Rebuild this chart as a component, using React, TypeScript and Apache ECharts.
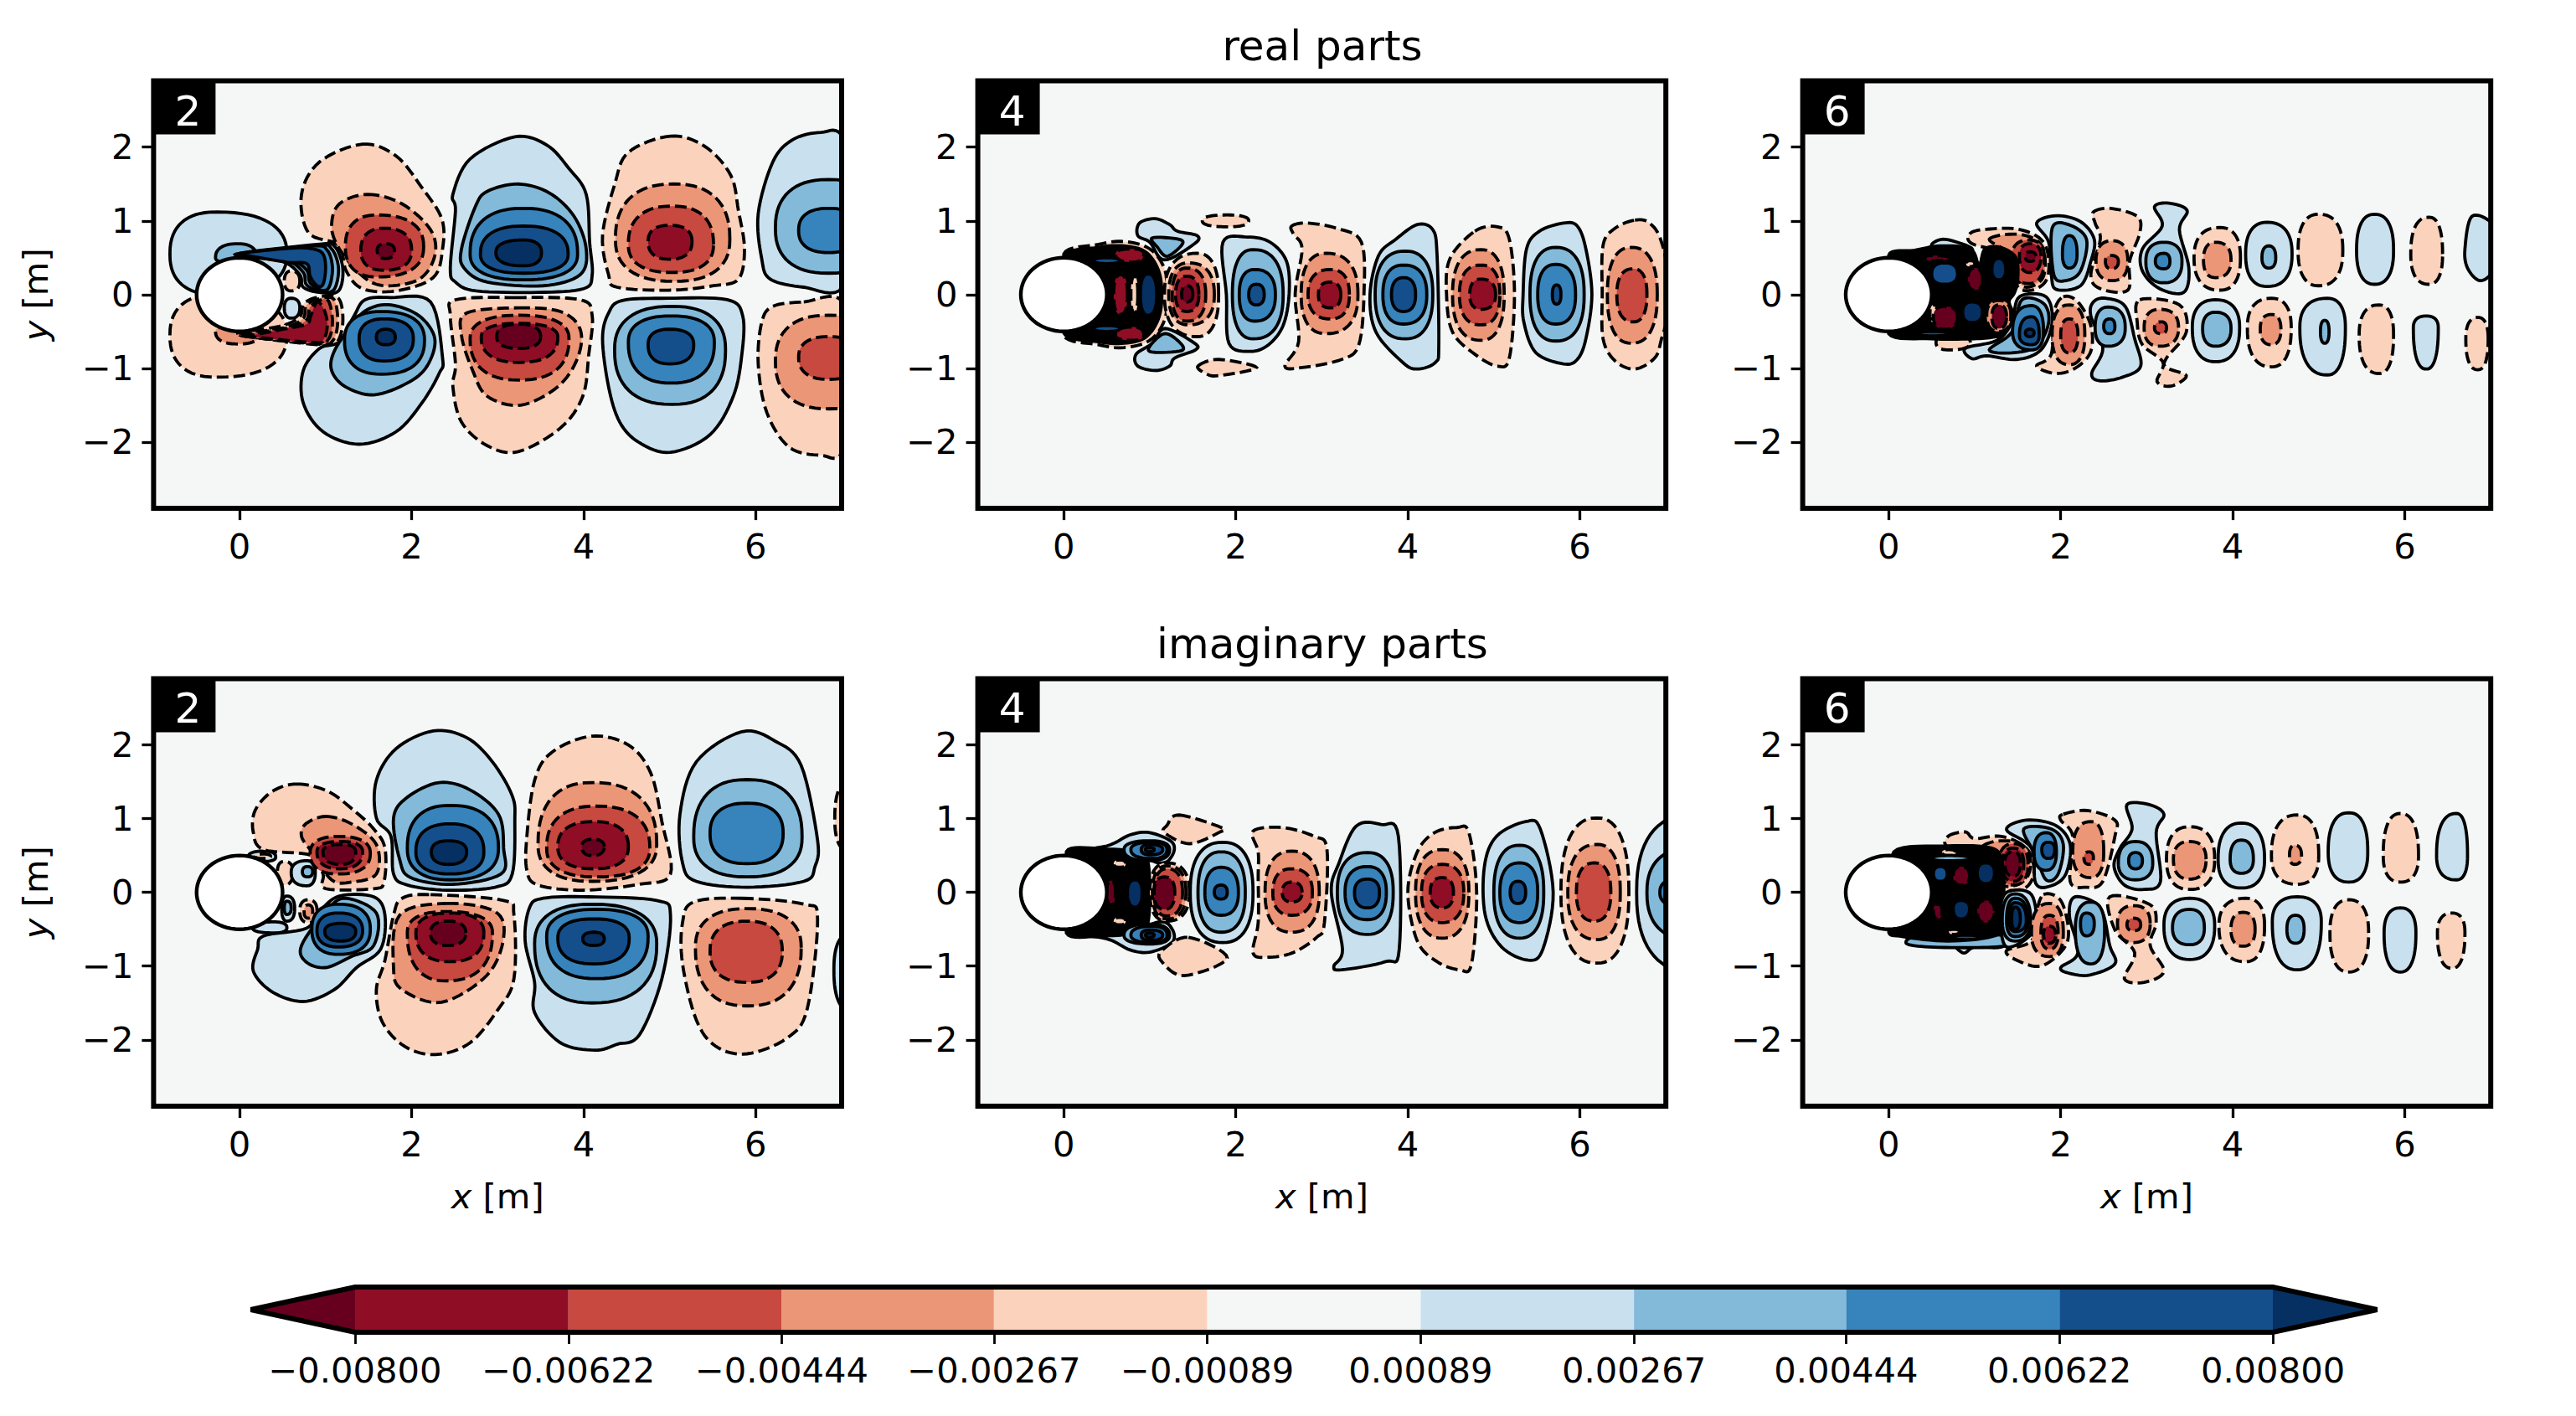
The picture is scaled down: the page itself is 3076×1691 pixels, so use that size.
import React, { useEffect, useRef } from "react";
import * as echarts from "echarts";

const FONT = "DejaVu Sans";
const panelTitles = ["real parts", "imaginary parts"];
const panelNumbers = ["2", "4", "6"];
const xTicks = [0, 2, 4, 6];
const yTicks = [-2, -1, 0, 1, 2];
const cbTicks = [-0.008, -0.00622, -0.00444, -0.00267, -0.00089, 0.00089, 0.00267, 0.00444, 0.00622, 0.008];
const cbColors = ["#8f0d25", "#c7493f", "#ec9678", "#fbd3bc", "#f5f7f6", "#c9e1ee", "#83bada", "#3783bb", "#144f8c"];
const cbTip = 0.00887;
const levelColors: Record<string, string> = {
  "-5": "#67001f", "-4": "#8f0d25", "-3": "#c7493f", "-2": "#ec9678", "-1": "#fbd3bc",
  "1": "#c9e1ee", "2": "#83bada", "3": "#3783bb", "4": "#144f8c", "5": "#053061",
  "9": "#000000", "10": "#ffffff",
};

// Contours. [level, xLeft, xRight, yBottom, yTop, xWidest, yWidest] or [level, outline]
const real2: any[] = [
  [1, -0.81, 0.55, 0, 1.12, -0.27, 0.55],
  [-1, -0.81, 0.55, -1.12, 0, -0.27, -0.55],
  [2, -0.28, 0.2, 0.42, 0.69, -0.02, 0.5],
  [-2, -0.28, 0.25, -0.67, -0.42, -0.02, -0.5],
  [-1, 0.52, 0.7, 0.05, 0.32, 0.6, 0.18],
  [1, 0.52, 0.7, -0.32, -0.05, 0.6, -0.18],
  [1, [[0, 0.56], [0.9, 0.68], [1.1, 0.66], [1.2, 0.36], [1.15, 0.05], [0.93, 0.03], [0.74, 0.1], [0.7, 0.27], [0.5, 0.45], [0.1, 0.51]]],
  [2, [[0.05, 0.56], [0.9, 0.67], [1.07, 0.62], [1.15, 0.36], [1.1, 0.07], [0.95, 0.04], [0.78, 0.13], [0.74, 0.3], [0.55, 0.46], [0.1, 0.52]]],
  [3, [[0.07, 0.56], [0.85, 0.66], [1.02, 0.6], [1.08, 0.36], [1.04, 0.1], [0.95, 0.06], [0.82, 0.16], [0.78, 0.33], [0.6, 0.46], [0.12, 0.53]]],
  [4, [[0.02, 0.56], [0.6, 0.63], [0.85, 0.62], [0.97, 0.55], [1.0, 0.36], [0.97, 0.14], [0.9, 0.12], [0.82, 0.25], [0.78, 0.42], [0.55, 0.44], [0.14, 0.52]]],
  [-1, [[0, -0.55], [0.9, -0.68], [1.12, -0.66], [1.2, -0.38], [1.15, -0.05], [0.93, -0.03], [0.75, -0.12], [0.7, -0.3], [0.5, -0.42], [0.1, -0.5]]],
  [-2, [[0.03, -0.56], [0.9, -0.67], [1.08, -0.63], [1.14, -0.38], [1.1, -0.07], [0.95, -0.05], [0.78, -0.14], [0.74, -0.32], [0.55, -0.44], [0.12, -0.52]]],
  [-3, [[0.05, -0.56], [0.88, -0.66], [1.03, -0.61], [1.08, -0.38], [1.04, -0.1], [0.95, -0.07], [0.82, -0.17], [0.78, -0.34], [0.6, -0.44], [0.13, -0.53]]],
  [-4, [[0.06, -0.56], [0.85, -0.65], [0.98, -0.6], [1.02, -0.4], [0.98, -0.2], [0.9, -0.1], [0.83, -0.28], [0.78, -0.4], [0.55, -0.46], [0.15, -0.55]]],
  [-1, [[1.43, 2.04], [1.82, 1.88], [2.12, 1.45], [2.35, 1.03], [2.36, 0.62], [2.25, 0.23], [1.82, 0.05], [1.43, 0.08], [1.24, 0.32], [1.15, 0.67], [0.8, 0.84], [0.72, 1.36], [0.93, 1.8]]],
  [-2, [[1.49, 1.36], [1.89, 1.23], [2.22, 0.88], [2.27, 0.53], [2.09, 0.21], [1.69, 0.12], [1.43, 0.25], [1.16, 0.62], [1.07, 0.93], [1.16, 1.23]]],
  [-3, 1.23, 2.14, 0.24, 1.08, 1.6, 0.65],
  [-4, 1.41, 2.0, 0.33, 0.9, 1.68, 0.6],
  [-5, 1.6, 1.8, 0.49, 0.69, 1.7, 0.6],
  [1, [[3.2, 2.14], [3.57, 2.03], [3.83, 1.71], [4.03, 1.36], [4.07, 0.71], [4.1, 0.27], [4.0, 0.08], [3.47, 0.03], [2.75, 0.05], [2.51, 0.17], [2.45, 0.36], [2.51, 1.14], [2.48, 1.36], [2.68, 1.84]]],
  [2, [[3.24, 1.5], [3.6, 1.38], [3.89, 1.06], [4.03, 0.62], [3.96, 0.27], [3.53, 0.12], [2.88, 0.17], [2.61, 0.36], [2.58, 0.62], [2.74, 1.19], [2.88, 1.4]]],
  [3, 2.68, 3.93, 0.2, 1.17, 3.3, 0.55],
  [4, 2.8, 3.82, 0.29, 0.93, 3.3, 0.55],
  [5, 2.98, 3.51, 0.39, 0.74, 3.3, 0.57],
  [-1, [[5.01, 2.15], [5.41, 2.01], [5.71, 1.62], [5.8, 1.14], [5.87, 0.62], [5.8, 0.21], [5.51, 0.12], [5.0, 0.06], [4.39, 0.1], [4.29, 0.27], [4.22, 0.8], [4.36, 1.49], [4.52, 1.93]]],
  [-2, 4.37, 5.7, 0.18, 1.5, 5.05, 0.75],
  [-3, 4.52, 5.51, 0.3, 1.2, 5.03, 0.68],
  [-4, 4.75, 5.26, 0.48, 0.94, 5.0, 0.72],
  [1, [[6.76, 2.2], [7.02, 2.12], [7.25, 1.1], [7.02, 0.1], [6.56, 0.1], [6.17, 0.21], [6.07, 0.49], [6.03, 1.1], [6.2, 1.8], [6.43, 2.1]]],
  [2, 6.23, 7.5, 0.29, 1.56, 6.85, 0.9],
  [3, 6.5, 7.2, 0.57, 1.17, 6.85, 0.87],
  [1, [[1.76, -0.04], [2.22, -0.1], [2.36, -0.86], [2.32, -1.07], [2.12, -1.47], [1.82, -1.86], [1.39, -2.03], [0.97, -1.86], [0.74, -1.47], [0.74, -1.03], [0.93, -0.73], [1.16, -0.64], [1.33, -0.29], [1.46, -0.07]]],
  [2, [[1.76, -0.14], [2.09, -0.29], [2.27, -0.6], [2.18, -0.97], [1.95, -1.2], [1.56, -1.36], [1.23, -1.25], [1.07, -1.03], [1.1, -0.77], [1.3, -0.42], [1.49, -0.2]]],
  [3, 1.22, 2.15, -1.08, -0.23, 1.65, -0.62],
  [4, 1.39, 2.02, -0.9, -0.33, 1.68, -0.6],
  [5, 1.59, 1.81, -0.68, -0.47, 1.7, -0.58],
  [-1, [[3.2, -0.04], [3.96, -0.07], [4.1, -0.29], [4.06, -0.81], [3.99, -1.38], [3.73, -1.81], [3.24, -2.13], [2.88, -2.05], [2.58, -1.73], [2.48, -1.25], [2.51, -0.94], [2.45, -0.29], [2.51, -0.07]]],
  [-2, [[3.24, -0.18], [3.73, -0.23], [3.96, -0.47], [3.93, -0.86], [3.7, -1.25], [3.27, -1.5], [2.88, -1.38], [2.71, -1.03], [2.58, -0.55], [2.64, -0.25]]],
  [-3, 2.68, 3.83, -1.16, -0.28, 3.25, -0.6],
  [-4, 2.81, 3.7, -0.92, -0.39, 3.25, -0.58],
  [-5, 2.99, 3.5, -0.73, -0.4, 3.25, -0.57],
  [1, [[4.98, -0.05], [5.67, -0.07], [5.85, -0.29], [5.84, -0.81], [5.74, -1.38], [5.47, -1.9], [5.01, -2.14], [4.65, -2.01], [4.42, -1.73], [4.29, -1.25], [4.22, -0.6], [4.29, -0.25], [4.45, -0.08]]],
  [2, 4.36, 5.65, -1.49, -0.16, 5.03, -0.75],
  [3, 4.52, 5.52, -1.2, -0.29, 5.02, -0.65],
  [4, 4.75, 5.28, -0.94, -0.47, 5.0, -0.68],
  [-1, [[6.56, -0.1], [7.02, -0.1], [7.25, -1.1], [7.02, -2.12], [6.76, -2.18], [6.39, -2.07], [6.13, -1.6], [6.03, -0.94], [6.07, -0.38], [6.2, -0.16]]],
  [-2, 6.23, 7.5, -1.55, -0.28, 6.85, -0.9],
  [-3, 6.5, 7.2, -1.15, -0.57, 6.85, -0.85],
];

const real4: any[] = [
  [-1, [[0, 0.55], [0.4, 0.68], [0.7, 0.72], [1.0, 0.62], [1.17, 0.35], [1.2, 0], [1.17, -0.35], [1.0, -0.62], [0.7, -0.72], [0.4, -0.68], [0, -0.55], [0.2, 0]]],
  [9, [[0, 0.52], [0.4, 0.64], [0.7, 0.66], [0.95, 0.58], [1.1, 0.33], [1.14, 0], [1.1, -0.33], [0.95, -0.58], [0.7, -0.66], [0.4, -0.64], [0, -0.52], [0.2, 0]]],
  [-4, 0.6, 0.93, 0.44, 0.62, 0.8, 0.55],
  [-4, 0.6, 0.93, -0.62, -0.44, 0.8, -0.55],
  [4, 0.35, 0.65, 0.42, 0.5, 0.5, 0.46],
  [4, 0.35, 0.65, -0.5, -0.42, 0.5, -0.46],
  [-4, 0.58, 0.74, -0.27, 0.27, 0.66, 0],
  [-1, 0.78, 0.86, -0.25, 0.25, 0.82, 0],
  [5, 0.89, 1.08, -0.28, 0.28, 0.98, 0],
  [-1, 1.17, 1.8, -0.57, 0.56, 1.55, 0],
  [-2, 1.22, 1.75, -0.41, 0.43, 1.45, 0],
  [-3, 1.26, 1.65, -0.36, 0.36, 1.43, 0],
  [-4, 1.3, 1.57, -0.23, 0.25, 1.43, 0],
  [-5, 1.37, 1.5, -0.1, 0.12, 1.43, 0],
  [1, [[1.06, 1.03], [1.23, 0.95], [1.32, 0.86], [1.55, 0.8], [1.52, 0.69], [1.17, 0.47], [1.0, 0.71], [0.86, 0.8], [0.88, 0.97]]],
  [2, [[1.03, 0.77], [1.34, 0.75], [1.37, 0.67], [1.2, 0.52], [1.09, 0.64]]],
  [1, [[1.07, -1.03], [0.86, -0.97], [0.84, -0.81], [1.03, -0.66], [1.18, -0.46], [1.52, -0.66], [1.53, -0.75], [1.29, -0.86], [1.23, -0.97]]],
  [2, [[1.0, -0.7], [1.17, -0.53], [1.34, -0.64], [1.37, -0.76], [1.03, -0.78]]],
  [-1, 1.61, 2.15, 0.92, 1.08, 1.9, 1.0],
  [-1, [[1.56, -0.97], [1.8, -0.88], [2.24, -0.99], [1.8, -1.1], [1.65, -1.07]]],
  [1, [[1.85, 0.71], [2.14, 0.78], [2.4, 0.71], [2.59, 0.45], [2.62, 0.01], [2.55, -0.42], [2.38, -0.68], [2.17, -0.77], [1.92, -0.66], [1.89, 0]]],
  [2, 1.96, 2.55, -0.6, 0.61, 2.2, 0],
  [3, 2.04, 2.46, -0.36, 0.34, 2.22, 0],
  [4, 2.15, 2.33, -0.14, 0.14, 2.24, 0],
  [-1, [[2.65, 0.93], [2.83, 0.97], [3.17, 0.9], [3.46, 0.71], [3.49, 0.01], [3.43, -0.68], [3.23, -0.88], [2.77, -0.99], [2.57, -0.97], [2.73, -0.64], [2.69, 0.01], [2.77, 0.62], [2.67, 0.82]]],
  [-2, 2.76, 3.42, -0.53, 0.56, 3.05, 0],
  [-3, 2.84, 3.32, -0.33, 0.34, 3.1, 0],
  [-4, 2.96, 3.22, -0.18, 0.17, 3.1, 0],
  [1, [[4.11, 0.95], [4.29, 0.88], [4.34, 0.53], [4.36, -0.68], [4.32, -0.92], [4.11, -1.01], [3.94, -0.92], [3.63, -0.51], [3.56, 0], [3.66, 0.53], [3.86, 0.75]]],
  [2, 3.62, 4.29, -0.6, 0.59, 3.97, 0],
  [3, 3.71, 4.22, -0.4, 0.4, 3.95, 0],
  [4, 3.81, 4.09, -0.23, 0.23, 3.95, 0],
  [-1, [[4.78, 0.86], [5.04, 0.92], [5.18, 0.75], [5.24, 0], [5.18, -0.86], [5.04, -0.97], [4.78, -0.81], [4.52, -0.51], [4.45, 0], [4.49, 0.49]]],
  [-2, 4.52, 5.12, -0.62, 0.61, 4.85, 0],
  [-3, 4.6, 5.07, -0.41, 0.4, 4.85, 0],
  [-4, 4.72, 5.02, -0.2, 0.21, 4.85, 0],
  [1, [[5.81, 0.97], [5.97, 0.93], [6.07, 0.62], [6.14, 0], [6.07, -0.6], [5.97, -0.88], [5.81, -0.94], [5.49, -0.79], [5.35, -0.38], [5.34, 0], [5.38, 0.62], [5.53, 0.86]]],
  [2, 5.42, 6.05, -0.63, 0.64, 5.72, 0],
  [3, 5.51, 5.95, -0.4, 0.41, 5.72, 0],
  [4, 5.68, 5.78, -0.13, 0.13, 5.73, 0],
  [-1, [[6.64, 1.01], [6.81, 0.97], [6.95, 0.71], [7.07, 0], [6.95, -0.6], [6.87, -0.86], [6.64, -1.01], [6.41, -0.9], [6.27, -0.6], [6.26, 0], [6.27, 0.67], [6.41, 0.9]]],
  [-2, 6.32, 6.9, -0.66, 0.64, 6.6, 0],
  [-3, 6.43, 6.78, -0.37, 0.35, 6.62, 0],
];

const real6: any[] = [
  [1, [[0.5, 0.68], [0.66, 0.75], [0.97, 0.62], [0.6, 0.6]]],
  [-1, 0.55, 0.95, -0.75, -0.55, 0.7, -0.65],
  [-1, [[0.94, 0.82], [1.09, 0.88], [1.49, 0.89], [1.77, 0.75], [1.86, 0.49], [1.83, 0.19], [1.66, 0.06], [1.49, 0.12], [1.37, 0.53], [0.97, 0.69]]],
  [-2, [[1.17, 0.75], [1.49, 0.82], [1.75, 0.71], [1.82, 0.45], [1.77, 0.19], [1.55, 0.12], [1.43, 0.53]]],
  [-3, 1.43, 1.81, 0.15, 0.74, 1.63, 0.5],
  [-4, 1.52, 1.77, 0.3, 0.69, 1.64, 0.52],
  [-5, 1.59, 1.71, 0.45, 0.58, 1.64, 0.52],
  [9, [[0, 0.53], [0.3, 0.6], [0.6, 0.66], [0.95, 0.62], [1.05, 0.4], [1.12, 0.62], [1.3, 0.64], [1.48, 0.5], [1.5, 0.2], [1.46, 0.02], [1.4, -0.1], [1.46, -0.3], [1.42, -0.52], [1.2, -0.58], [0.95, -0.6], [0.5, -0.6], [0, -0.53], [0.2, 0]]],
  [-5, 0.42, 0.7, 0.46, 0.53, 0.5, 0.5],
  [4, 0.5, 0.8, 0.14, 0.43, 0.65, 0.28],
  [-5, 0.92, 1.09, 0.06, 0.36, 1, 0.2],
  [5, 1.2, 1.36, 0.2, 0.49, 1.28, 0.34],
  [-1, 0.9, 1.0, 0.38, 0.46, 0.95, 0.42],
  [-1, 0.48, 0.58, -0.38, -0.14, 0.52, -0.25],
  [5, 0.86, 1.09, -0.38, -0.1, 0.97, -0.24],
  [-2, 1.14, 1.42, -0.5, -0.08, 1.28, -0.28],
  [-5, 1.2, 1.37, -0.46, -0.14, 1.28, -0.3],
  [-5, 0.52, 0.8, -0.47, -0.16, 0.65, -0.3],
  [4, 0.35, 0.7, -0.56, -0.5, 0.5, -0.53],
  [1, [[1.72, 0.97], [1.95, 1.07], [2.23, 0.99], [2.39, 0.75], [2.35, 0.45], [2.23, 0.12], [1.95, 0.07], [1.89, 0.27], [1.86, 0.71]]],
  [2, [[1.9, 0.9], [2.09, 0.95], [2.3, 0.75], [2.23, 0.32], [2.06, 0.19], [1.92, 0.27]]],
  [3, 2.02, 2.19, 0.36, 0.8, 2.1, 0.55],
  [-1, [[2.38, 1.12], [2.58, 1.17], [2.89, 1.06], [2.92, 0.84], [2.8, 0.45], [2.78, 0.06], [2.46, 0.08], [2.35, 0.27], [2.46, 0.75], [2.4, 0.97]]],
  [-2, 2.41, 2.78, 0.19, 0.73, 2.6, 0.45],
  [-3, 2.52, 2.67, 0.35, 0.53, 2.59, 0.45],
  [1, [[3.09, 1.19], [3.26, 1.24], [3.47, 1.14], [3.38, 0.88], [3.49, 0.36], [3.43, 0.03], [3.15, 0.08], [2.95, 0.32], [2.95, 0.62], [3.18, 0.93]]],
  [2, 2.99, 3.41, 0.16, 0.71, 3.2, 0.45],
  [3, 3.1, 3.27, 0.35, 0.56, 3.2, 0.45],
  [-1, 3.55, 4.09, 0.06, 0.91, 3.85, 0.5],
  [-2, 3.66, 3.98, 0.23, 0.71, 3.8, 0.47],
  [1, 4.15, 4.69, 0.11, 0.98, 4.4, 0.55],
  [2, 4.34, 4.5, 0.36, 0.66, 4.42, 0.5],
  [-1, 4.76, 5.28, 0.12, 1.09, 5.0, 0.6],
  [1, 5.44, 5.87, 0.14, 1.09, 5.65, 0.6],
  [-1, 6.07, 6.44, 0.14, 1.05, 6.28, 0.55],
  [1, [[6.78, 1.06], [7.02, 0.96], [7.15, 0.6], [7.02, 0.3], [6.87, 0.19], [6.73, 0.36], [6.7, 0.62]]],
  [1, [[1.52, -0.03], [1.83, -0.03], [1.9, -0.38], [1.77, -0.75], [1.49, -0.88], [1.14, -0.83], [0.97, -0.87], [0.89, -0.73], [1.26, -0.62], [1.43, -0.38]]],
  [2, [[1.55, -0.07], [1.8, -0.12], [1.86, -0.38], [1.72, -0.7], [1.43, -0.79], [1.17, -0.75], [1.43, -0.51]]],
  [3, 1.44, 1.8, -0.75, -0.15, 1.66, -0.5],
  [4, 1.52, 1.75, -0.68, -0.3, 1.66, -0.55],
  [5, 1.59, 1.69, -0.57, -0.47, 1.64, -0.52],
  [-1, [[2.03, -0.03], [2.2, -0.1], [2.35, -0.42], [2.35, -0.77], [2.18, -0.99], [1.95, -1.07], [1.72, -0.97], [1.89, -0.81], [1.92, -0.25]]],
  [-2, 1.9, 2.28, -0.95, -0.14, 2.1, -0.55],
  [-3, 2.0, 2.2, -0.79, -0.33, 2.1, -0.55],
  [1, [[2.52, -0.05], [2.75, -0.16], [2.86, -0.6], [2.93, -0.97], [2.72, -1.12], [2.46, -1.17], [2.36, -1.07], [2.49, -0.73], [2.35, -0.29], [2.38, -0.1]]],
  [2, 2.4, 2.75, -0.7, -0.17, 2.55, -0.45],
  [3, 2.5, 2.63, -0.53, -0.33, 2.57, -0.43],
  [-1, [[2.92, -0.07], [3.38, -0.14], [3.46, -0.51], [3.23, -0.86], [3.23, -0.99], [3.46, -1.1], [3.29, -1.24], [3.12, -1.18], [3.19, -0.92], [2.95, -0.68], [2.89, -0.38]]],
  [-2, 2.97, 3.37, -0.7, -0.2, 3.15, -0.45],
  [-3, 3.09, 3.23, -0.53, -0.37, 3.17, -0.45],
  [1, 3.53, 4.08, -0.91, -0.07, 3.8, -0.45],
  [2, 3.65, 3.98, -0.7, -0.24, 3.8, -0.46],
  [-1, 4.17, 4.68, -0.98, -0.05, 4.45, -0.45],
  [-2, 4.32, 4.56, -0.68, -0.27, 4.45, -0.47],
  [1, 4.78, 5.31, -1.09, -0.05, 5.1, -0.45],
  [2, 5.02, 5.12, -0.66, -0.35, 5.07, -0.5],
  [-1, 5.47, 5.87, -1.07, -0.14, 5.7, -0.55],
  [1, 6.1, 6.39, -1.01, -0.29, 6.25, -0.45],
  [-1, 6.71, 6.97, -1.02, -0.31, 6.85, -0.6],
];

const imag2: any[] = [
  [1, 0.1, 0.42, 0.42, 0.56, 0.28, 0.48],
  [-1, 0.18, 0.36, 0.46, 0.52, 0.28, 0.49],
  [-1, 0.44, 0.62, 0.1, 0.42, 0.52, 0.28],
  [1, 0.6, 0.88, 0.09, 0.43, 0.78, 0.27],
  [2, 0.73, 0.85, 0.21, 0.35, 0.79, 0.28],
  [1, 0.49, 0.64, -0.39, -0.05, 0.55, -0.22],
  [2, 0.52, 0.6, -0.3, -0.12, 0.55, -0.21],
  [-1, 0.7, 0.9, -0.41, -0.1, 0.8, -0.25],
  [-2, 0.75, 0.85, -0.35, -0.17, 0.8, -0.26],
  [1, 0.15, 0.55, -0.55, -0.4, 0.4, -0.48],
  [-1, [[0.67, 1.47], [1.03, 1.37], [1.33, 1.11], [1.56, 0.86], [1.69, 0.6], [1.68, 0.15], [1.56, 0.05], [1.0, 0.05], [0.97, 0.25], [0.84, 0.5], [0.28, 0.58], [0.16, 0.81], [0.18, 1.11], [0.38, 1.37]]],
  [-2, [[1.0, 1.03], [1.3, 0.93], [1.59, 0.65], [1.59, 0.25], [1.3, 0.14], [1.07, 0.17], [0.84, 0.55], [0.72, 0.76], [0.77, 0.93]]],
  [-3, 0.82, 1.52, 0.25, 0.76, 1.15, 0.53],
  [-4, 0.9, 1.43, 0.32, 0.69, 1.17, 0.55],
  [-5, 0.97, 1.35, 0.38, 0.65, 1.18, 0.55],
  [1, [[1.16, -0.05], [1.56, -0.06], [1.69, -0.31], [1.64, -0.77], [1.36, -1.02], [1.1, -1.32], [0.74, -1.48], [0.38, -1.35], [0.16, -1.07], [0.21, -0.77], [0.28, -0.59], [0.77, -0.49], [0.93, -0.26]]],
  [2, [[1.23, -0.08], [1.59, -0.28], [1.56, -0.72], [1.3, -0.87], [1.0, -1.02], [0.77, -0.94], [0.72, -0.72], [1.0, -0.26]]],
  [3, 0.84, 1.52, -0.84, -0.16, 1.15, -0.5],
  [4, 0.9, 1.43, -0.74, -0.28, 1.15, -0.52],
  [5, 0.99, 1.35, -0.66, -0.42, 1.18, -0.53],
  [1, [[2.25, 2.19], [2.64, 2.1], [2.94, 1.77], [3.17, 1.31], [3.2, 0.96], [3.17, 0.25], [2.97, 0.07], [2.41, 0.03], [1.95, 0.1], [1.79, 0.25], [1.76, 0.76], [1.59, 1.01], [1.59, 1.52], [1.82, 1.95]]],
  [2, [[2.32, 1.49], [2.68, 1.39], [3.01, 1.06], [3.07, 0.6], [3.04, 0.25], [2.48, 0.11], [1.99, 0.2], [1.86, 0.45], [1.79, 1.01], [1.95, 1.29]]],
  [3, 1.95, 3.01, 0.17, 1.18, 2.45, 0.6],
  [4, 2.05, 2.84, 0.25, 0.93, 2.45, 0.55],
  [5, 2.23, 2.64, 0.38, 0.7, 2.43, 0.55],
  [-1, [[4.09, 2.12], [4.52, 2.0], [4.78, 1.62], [4.91, 0.96], [5.01, 0.25], [4.65, 0.11], [3.99, 0.03], [3.47, 0.1], [3.34, 0.3], [3.34, 0.76], [3.43, 1.52], [3.63, 1.9]]],
  [-2, 3.47, 4.85, 0.15, 1.49, 4.1, 0.65],
  [-3, 3.57, 4.77, 0.21, 1.17, 4.15, 0.6],
  [-4, 3.7, 4.52, 0.32, 0.96, 4.12, 0.62],
  [-5, 3.98, 4.24, 0.5, 0.72, 4.1, 0.62],
  [1, [[5.84, 2.18], [6.23, 2.05], [6.53, 1.72], [6.72, 0.71], [6.69, 0.35], [6.56, 0.15], [5.9, 0.07], [5.31, 0.15], [5.15, 0.4], [5.12, 1.06], [5.31, 1.77]]],
  [2, 5.28, 6.54, 0.21, 1.53, 5.9, 0.75],
  [3, 5.47, 6.32, 0.39, 1.21, 5.9, 0.8],
  [-1, 6.92, 7.3, 0.55, 1.52, 7.1, 1.0],
  [1, 6.91, 7.3, -1.6, -0.56, 7.1, -1.05],
  [-1, [[2.22, -0.03], [3.07, -0.11], [3.19, -0.31], [3.19, -1.17], [3.01, -1.58], [2.68, -2.04], [2.28, -2.2], [1.92, -2.09], [1.66, -1.76], [1.59, -1.32], [1.69, -0.92], [1.79, -0.31], [1.89, -0.08]]],
  [-2, [[2.41, -0.15], [2.97, -0.26], [3.07, -0.61], [2.88, -1.12], [2.35, -1.49], [1.89, -1.32], [1.79, -1.02], [1.86, -0.31]]],
  [-3, 1.95, 2.94, -1.2, -0.26, 2.4, -0.55],
  [-4, 2.05, 2.84, -0.94, -0.28, 2.45, -0.55],
  [-5, 2.22, 2.63, -0.72, -0.39, 2.42, -0.55],
  [1, [[4.06, -0.06], [4.85, -0.11], [5.01, -0.31], [4.91, -1.17], [4.65, -1.93], [4.39, -2.06], [4.13, -2.14], [3.73, -2.04], [3.43, -1.63], [3.43, -1.22], [3.32, -0.66], [3.37, -0.21], [3.53, -0.08]]],
  [2, 3.43, 4.85, -1.5, -0.16, 4.1, -0.7],
  [3, 3.57, 4.75, -1.17, -0.23, 4.15, -0.6],
  [4, 3.7, 4.53, -0.97, -0.36, 4.12, -0.62],
  [5, 3.99, 4.24, -0.72, -0.54, 4.12, -0.63],
  [-1, [[5.84, -0.08], [6.56, -0.16], [6.72, -0.36], [6.6, -1.58], [6.36, -1.98], [5.9, -2.19], [5.54, -2.09], [5.31, -1.73], [5.15, -0.97], [5.15, -0.41], [5.28, -0.13]]],
  [-2, 5.3, 6.53, -1.54, -0.22, 5.9, -0.75],
  [-3, 5.47, 6.31, -1.22, -0.39, 5.9, -0.8],
];

const imag4: any[] = [
  [9, [[0.03, 0.55], [0.4, 0.6], [0.71, 0.62], [0.9, 0.55], [0.98, 0.4], [1.0, 0], [0.98, -0.4], [0.9, -0.55], [0.71, -0.62], [0.4, -0.6], [0.03, -0.55], [0.2, 0]]],
  [-1, 0.58, 0.72, 0.34, 0.44, 0.65, 0.39],
  [-1, 0.58, 0.72, -0.44, -0.34, 0.65, -0.39],
  [1, [[0.77, 0.78], [1.0, 0.81], [1.26, 0.68], [1.26, 0.5], [1.11, 0.4], [0.66, 0.58], [0.03, 0.55], [0.5, 0.63]]],
  [2, 0.7, 1.23, 0.43, 0.7, 1.0, 0.58],
  [3, 0.78, 1.2, 0.46, 0.68, 1.03, 0.58],
  [4, 0.9, 1.15, 0.51, 0.65, 1.0, 0.58],
  [5, 0.95, 1.05, 0.55, 0.61, 1.0, 0.58],
  [1, [[0.77, -0.78], [1.0, -0.81], [1.26, -0.68], [1.26, -0.5], [1.11, -0.4], [0.66, -0.58], [0.03, -0.55], [0.5, -0.63]]],
  [2, 0.7, 1.23, -0.7, -0.43, 1.0, -0.58],
  [3, 0.78, 1.2, -0.68, -0.46, 1.03, -0.58],
  [4, 0.9, 1.15, -0.65, -0.51, 1.0, -0.58],
  [5, 0.95, 1.05, -0.61, -0.55, 1.0, -0.58],
  [-5, 0.5, 0.6, -0.17, 0.16, 0.55, 0],
  [5, 0.74, 0.91, -0.2, 0.17, 0.83, 0],
  [-1, 1.0, 1.46, -0.39, 0.4, 1.2, 0],
  [-2, 1.03, 1.42, -0.36, 0.36, 1.2, 0],
  [-3, 1.05, 1.38, -0.32, 0.32, 1.2, 0],
  [-5, 1.05, 1.29, -0.23, 0.21, 1.17, 0],
  [-1, [[1.34, 1.05], [1.83, 0.88], [1.8, 0.81], [1.46, 0.66], [1.17, 0.81], [1.2, 0.91]]],
  [-1, [[1.45, -0.61], [1.9, -0.89], [1.4, -1.13], [1.14, -0.94], [1.14, -0.79]]],
  [1, 1.47, 2.2, -0.68, 0.68, 1.85, 0],
  [2, 1.56, 2.11, -0.54, 0.55, 1.83, 0],
  [3, 1.64, 2.03, -0.31, 0.34, 1.83, 0],
  [4, 1.75, 1.9, -0.09, 0.1, 1.83, 0],
  [-1, [[2.2, 0.83], [2.54, 0.88], [2.91, 0.76], [3.06, 0.58], [3.03, -0.41], [2.94, -0.61], [2.66, -0.82], [2.37, -0.88], [2.2, -0.82], [2.26, -0.41], [2.26, 0.2], [2.26, 0.55]]],
  [-2, 2.34, 2.97, -0.54, 0.56, 2.65, 0],
  [-3, 2.43, 2.89, -0.31, 0.32, 2.65, 0],
  [-4, 2.54, 2.77, -0.13, 0.14, 2.65, 0],
  [1, [[3.4, 0.9], [3.69, 0.92], [3.89, 0.76], [3.9, -0.77], [3.74, -0.94], [3.23, -1.05], [3.14, -1.0], [3.24, -0.77], [3.11, 0], [3.2, 0.4]]],
  [2, 3.18, 3.83, -0.57, 0.54, 3.53, 0],
  [3, 3.27, 3.75, -0.37, 0.35, 3.53, 0],
  [4, 3.38, 3.67, -0.21, 0.18, 3.53, 0],
  [-1, [[4.57, 0.88], [4.71, 0.81], [4.8, 0], [4.74, -0.97], [4.6, -1.05], [4.34, -0.94], [4.11, -0.66], [4.0, 0], [4.11, 0.55], [4.31, 0.81]]],
  [-2, 4.09, 4.71, -0.62, 0.58, 4.4, 0],
  [-3, 4.16, 4.65, -0.41, 0.38, 4.4, 0],
  [-4, 4.26, 4.53, -0.21, 0.2, 4.4, 0],
  [1, [[5.37, 0.96], [5.54, 0.86], [5.69, 0], [5.57, -0.77], [5.4, -0.92], [5.09, -0.74], [4.9, -0.31], [4.89, 0.35], [5.03, 0.76]]],
  [2, 5.0, 5.58, -0.62, 0.64, 5.3, 0],
  [3, 5.07, 5.51, -0.41, 0.4, 5.3, 0],
  [4, 5.19, 5.37, -0.15, 0.15, 5.28, 0],
  [-1, 5.78, 6.57, -0.96, 1.01, 6.2, 0],
  [-2, 5.86, 6.47, -0.64, 0.65, 6.2, 0],
  [-3, 5.96, 6.36, -0.39, 0.4, 6.17, 0],
  [1, 6.66, 7.6, -1.07, 1.05, 7.3, 0],
  [2, 6.78, 7.5, -0.64, 0.6, 7.3, 0],
  [3, 6.93, 7.3, -0.2, 0.2, 7.2, 0],
];

const imag6: any[] = [
  [-1, [[0.69, 0.76], [0.89, 0.82], [1.0, 0.73], [1.31, 0.76], [1.6, 0.6], [1.69, 0.3], [1.6, 0.07], [1.37, 0.04], [1.2, 0.3], [0.7, 0.6]]],
  [-2, 1.0, 1.65, 0.08, 0.7, 1.35, 0.4],
  [-3, 1.28, 1.62, 0.1, 0.66, 1.45, 0.38],
  [-4, 1.32, 1.57, 0.15, 0.6, 1.45, 0.38],
  [-5, 1.35, 1.53, 0.22, 0.55, 1.45, 0.4],
  [1, [[0.69, -0.61], [0.86, -0.82], [1.0, -0.74], [1.31, -0.74], [1.6, -0.56], [1.3, -0.5], [0.7, -0.5]]],
  [2, 0.2, 1.45, -0.75, -0.55, 0.9, -0.68],
  [9, [[0.06, 0.55], [0.69, 0.63], [1.2, 0.6], [1.32, 0.4], [1.34, 0], [1.34, -0.45], [1.2, -0.6], [0.69, -0.66], [0.17, -0.6], [0, -0.51], [0.2, 0]]],
  [-1, 0.62, 0.78, 0.5, 0.58, 0.7, 0.54],
  [2, 0.5, 0.95, 0.43, 0.5, 0.7, 0.46],
  [4, 0.52, 0.68, 0.15, 0.35, 0.6, 0.25],
  [-5, 0.75, 0.94, 0.1, 0.35, 0.84, 0.22],
  [5, 1.03, 1.23, 0.12, 0.4, 1.13, 0.26],
  [5, 0.75, 0.94, -0.36, -0.11, 0.84, -0.22],
  [-5, 1.03, 1.23, -0.41, -0.11, 1.12, -0.25],
  [-5, 0.52, 0.62, -0.36, -0.16, 0.57, -0.25],
  [-1, 0.7, 0.82, -0.57, -0.5, 0.76, -0.53],
  [4, 0.75, 1.05, -0.64, -0.58, 0.9, -0.61],
  [1, [[1.37, 0.85], [1.6, 0.98], [1.94, 0.91], [2.11, 0.65], [2.06, 0.25], [1.89, 0.09], [1.71, 0.12], [1.66, 0.6]]],
  [2, [[1.57, 0.86], [1.89, 0.86], [2.03, 0.65], [1.97, 0.25], [1.83, 0.17], [1.71, 0.5]]],
  [3, 1.69, 1.95, 0.3, 0.81, 1.83, 0.55],
  [4, 1.78, 1.93, 0.46, 0.68, 1.86, 0.58],
  [-1, [[2.03, 1.06], [2.31, 1.11], [2.63, 0.98], [2.63, 0.76], [2.49, 0.15], [2.29, 0.07], [2.11, 0.15], [2.14, 0.76], [2.0, 0.98]]],
  [-2, 2.14, 2.5, 0.2, 0.96, 2.35, 0.55],
  [-3, 2.27, 2.38, 0.38, 0.55, 2.33, 0.47],
  [1, [[2.77, 1.19], [3.03, 1.19], [3.2, 1.06], [3.11, 0.81], [3.16, 0.15], [2.97, 0.04], [2.74, 0.1], [2.62, 0.35], [2.69, 0.6], [2.83, 0.86]]],
  [2, 2.67, 3.07, 0.17, 0.69, 2.87, 0.4],
  [3, 2.79, 2.95, 0.32, 0.54, 2.87, 0.43],
  [-1, 3.23, 3.79, 0.04, 0.89, 3.5, 0.45],
  [-2, 3.31, 3.69, 0.18, 0.69, 3.5, 0.45],
  [1, 3.83, 4.37, 0.06, 0.94, 4.1, 0.45],
  [2, 3.97, 4.24, 0.26, 0.71, 4.1, 0.45],
  [-1, 4.45, 5.0, 0.11, 1.05, 4.75, 0.5],
  [-2, 4.66, 4.8, 0.38, 0.64, 4.72, 0.5],
  [1, 5.11, 5.57, 0.14, 1.08, 5.35, 0.55],
  [-1, 5.75, 6.16, 0.14, 1.07, 5.95, 0.5],
  [1, 6.37, 6.73, 0.17, 1.07, 6.6, 0.5],
  [1, [[1.37, 0], [1.66, -0.03], [1.69, -0.51], [1.37, -0.74], [1.3, -0.3]]],
  [2, 1.32, 1.65, -0.66, -0.02, 1.47, -0.38],
  [3, 1.37, 1.62, -0.6, -0.08, 1.47, -0.38],
  [4, 1.4, 1.6, -0.53, -0.14, 1.47, -0.38],
  [5, 1.43, 1.53, -0.5, -0.2, 1.47, -0.35],
  [-1, [[1.8, -0.03], [2.0, -0.11], [2.09, -0.51], [2.03, -0.77], [1.77, -1.0], [1.49, -0.92], [1.37, -0.79], [1.66, -0.66], [1.71, -0.31]]],
  [-2, 1.66, 2.03, -0.87, -0.15, 1.87, -0.55],
  [-3, 1.77, 1.97, -0.77, -0.31, 1.87, -0.55],
  [-4, 1.8, 1.94, -0.69, -0.46, 1.87, -0.57],
  [1, [[2.17, -0.06], [2.46, -0.21], [2.57, -0.72], [2.63, -0.97], [2.34, -1.12], [2.11, -1.1], [2.0, -1.02], [2.2, -0.82], [2.1, -0.31]]],
  [2, 2.17, 2.51, -0.97, -0.13, 2.35, -0.5],
  [3, 2.23, 2.39, -0.59, -0.28, 2.3, -0.42],
  [-1, [[2.57, -0.06], [3.03, -0.16], [3.11, -0.41], [3.04, -0.72], [3.2, -1.07], [2.97, -1.22], [2.74, -1.17], [2.86, -0.82], [2.63, -0.51]]],
  [-2, 2.66, 3.04, -0.68, -0.18, 2.85, -0.42],
  [-3, 2.77, 2.93, -0.52, -0.35, 2.85, -0.44],
  [1, 3.2, 3.79, -0.91, -0.08, 3.5, -0.45],
  [2, 3.3, 3.67, -0.71, -0.23, 3.5, -0.48],
  [-1, 3.84, 4.37, -0.94, -0.08, 4.15, -0.45],
  [-2, 3.98, 4.26, -0.73, -0.27, 4.12, -0.5],
  [1, 4.46, 5.03, -1.05, -0.06, 4.75, -0.4],
  [2, 4.63, 4.83, -0.69, -0.31, 4.73, -0.5],
  [-1, 5.13, 5.58, -1.08, -0.1, 5.35, -0.55],
  [1, 5.76, 6.13, -1.08, -0.21, 5.95, -0.55],
  [-1, 6.38, 6.7, -1.03, -0.28, 6.55, -0.55],
];

const panels = [real2, real4, real6, imag2, imag4, imag6];
const cylinder = [10, -0.5, 0.5, -0.5, 0.5, 0, 0];
const colLeft = [183.4, 1167.6, 2152.6];
const rowTop = [96.5, 810.4];
const PW = 821.6;
const PH = 510.6;
const TICK_FONT = 41.67;
const LINE = 3.8;
const TICK_LINE = 3.3;
const SPINE = 6;

function ringPoints(row: number[], api: any) {
  const [lvl, xL, xR, yB, yT, cx, cy] = row;
  const n = lvl === 10 ? 2 : 2.4;
  const out: number[][] = [];
  for (let i = 0; i < 64; i++) {
    const t = (i / 64) * Math.PI * 2;
    const c = Math.cos(t);
    const s = Math.sin(t);
    const a = c >= 0 ? xR - cx : cx - xL;
    const b = s >= 0 ? yT - cy : cy - yB;
    out.push(api.coord([cx + a * Math.sign(c) * Math.pow(Math.abs(c), 2 / n), cy + b * Math.sign(s) * Math.pow(Math.abs(s), 2 / n)]));
  }
  return out;
}

function splinePoints(pts: number[][], api: any) {
  const p = pts.map((q) => api.coord(q));
  const m = p.length;
  const out: number[][] = [];
  for (let i = 0; i < m; i++) {
    const a = p[(i - 1 + m) % m], b = p[i], c = p[(i + 1) % m], d = p[(i + 2) % m];
    for (let k = 0; k < 8; k++) {
      const t = k / 8, t2 = t * t, t3 = t2 * t;
      const f = (j: number) => 0.5 * (2 * b[j] + (c[j] - a[j]) * t + (2 * a[j] - 5 * b[j] + 4 * c[j] - d[j]) * t2 + (3 * b[j] - a[j] - 3 * c[j] + d[j]) * t3);
      out.push([f(0), f(1)]);
    }
  }
  return out;
}

function panelSeries(rows: any[], index: number) {
  const all = [...rows, cylinder, "frame"];
  return {
    type: "custom",
    xAxisIndex: index,
    yAxisIndex: index,
    silent: true,
    clip: false,
    encode: { x: 0, y: 1 },
    data: all.map((r: any) => (r === "frame" ? [0, 0] : r.length === 2 ? r[1][0] : [r[5], r[6]])),
    renderItem: (params: any, api: any) => {
      const row: any = all[params.dataIndex];
      const rc = params.coordSys;
      if (row === "frame") {
        return { type: "rect", shape: { x: rc.x, y: rc.y, width: rc.width, height: rc.height }, style: { fill: "none", stroke: "#000", lineWidth: SPINE } };
      }
      const lvl = row[0];
      const raw = row.length === 2 ? splinePoints(row[1], api) : ringPoints(row, api);
      const points = raw.map((q: number[]) => [Math.min(rc.x + rc.width, Math.max(rc.x, q[0])), Math.min(rc.y + rc.height, Math.max(rc.y, q[1]))]);
      return {
        type: "polygon",
        shape: { points },
        style: {
          fill: levelColors[String(lvl)],
          stroke: "#000",
          lineWidth: lvl === 10 ? 4.4 : LINE,
          lineDash: lvl < 0 ? [14, 6] : null,
        },
      };
    },
  };
}

const minus = (s: string) => s.replace("-", "\u2212");

function buildOption() {
  const grid: any[] = [], xAxis: any[] = [], yAxis: any[] = [], graphic: any[] = [];
  const axisBits = (ticks: number[]) => ({
    axisLine: { show: false, onZero: false },
    splitLine: { show: false },
    axisTick: { length: 14, customValues: ticks, lineStyle: { color: "#000", width: TICK_LINE } },
  });
  panels.forEach((_, i) => {
    const col = i % 3;
    const row = Math.floor(i / 3);
    const left = colLeft[col];
    const top = rowTop[row];
    grid.push({ left, top, width: PW, height: PH, show: true, backgroundColor: "#f5f7f6", borderWidth: 0 });
    xAxis.push({
      type: "value", gridIndex: i, min: -1, max: 7, ...axisBits(xTicks),
      axisLabel: { customValues: xTicks, margin: 24, fontFamily: FONT, fontSize: TICK_FONT, color: "#000", formatter: (v: number) => minus(String(v)) },
      ...(row === 1 ? {
        name: "{i|x} [m]", nameLocation: "middle", nameGap: 86,
        nameTextStyle: { fontFamily: FONT, fontSize: TICK_FONT, color: "#000", rich: { i: { fontFamily: FONT, fontSize: TICK_FONT, fontStyle: "italic", color: "#000" } } },
      } : {}),
    });
    yAxis.push({
      type: "value", gridIndex: i, min: -2.9, max: 2.9, ...axisBits(yTicks),
      axisLabel: { customValues: yTicks, margin: 24, fontFamily: FONT, fontSize: TICK_FONT, color: "#000", formatter: (v: number) => minus(String(v)) },
      ...(col === 0 ? {
        name: "{i|y} [m]", nameLocation: "middle", nameGap: 120, nameRotate: 90,
        nameTextStyle: { fontFamily: FONT, fontSize: TICK_FONT, color: "#000", rich: { i: { fontFamily: FONT, fontSize: TICK_FONT, fontStyle: "italic", color: "#000" } } },
      } : {}),
    });
    graphic.push({ type: "rect", z: 100, silent: true, shape: { x: left, y: top, width: 74, height: 64 }, style: { fill: "#000" } });
    graphic.push({
      type: "text", z: 101, silent: true, x: left + 41, y: top + 36,
      style: { text: panelNumbers[col], fill: "#fff", font: `50px "${FONT}"`, textAlign: "center", textVerticalAlign: "middle" },
    });
  });
  // colour bar
  grid.push({ left: 424, top: 1537, width: 2290, height: 54 });
  xAxis.push({
    type: "value", gridIndex: 6, min: -0.008, max: 0.008, axisLine: { show: false, onZero: false }, splitLine: { show: false },
    axisTick: { length: 14, customValues: cbTicks, lineStyle: { color: "#000", width: 2.8 } },
    axisLabel: { customValues: cbTicks, margin: 24, fontFamily: FONT, fontSize: TICK_FONT, color: "#000", hideOverlap: false, showMinLabel: true, showMaxLabel: true, formatter: (v: number) => minus(v.toFixed(5)) },
  });
  yAxis.push({ type: "value", gridIndex: 6, min: 0, max: 1, show: false });
  const cbSeries = {
    type: "custom", xAxisIndex: 6, yAxisIndex: 6, silent: true, clip: false, encode: { x: 0, y: 1 },
    data: [...cbColors.map((_, i) => [cbTicks[i], 0]), [-0.008, 0], [0.008, 0], [0, 0]],
    renderItem: (params: any, api: any) => {
      const i = params.dataIndex;
      const n = cbColors.length;
      if (i < n) {
        const a = api.coord([cbTicks[i], 1]);
        const b = api.coord([cbTicks[i + 1], 0]);
        return { type: "rect", shape: { x: a[0], y: a[1], width: b[0] - a[0], height: b[1] - a[1] }, style: { fill: cbColors[i] } };
      }
      if (i === n) {
        return { type: "polygon", shape: { points: [api.coord([-cbTip, 0.5]), api.coord([-0.008, 1]), api.coord([-0.008, 0])] }, style: { fill: "#67001f" } };
      }
      if (i === n + 1) {
        return { type: "polygon", shape: { points: [api.coord([cbTip, 0.5]), api.coord([0.008, 1]), api.coord([0.008, 0])] }, style: { fill: "#053061" } };
      }
      return {
        type: "polygon",
        shape: { points: [api.coord([-cbTip, 0.5]), api.coord([-0.008, 1]), api.coord([0.008, 1]), api.coord([cbTip, 0.5]), api.coord([0.008, 0]), api.coord([-0.008, 0])] },
        style: { fill: "none", stroke: "#000", lineWidth: SPINE },
      };
    },
  };
  return {
    animation: false,
    backgroundColor: "#fff",
    title: panelTitles.map((t, i) => ({
      text: t, left: 1574, top: i === 0 ? 25 : 739, textAlign: "center",
      textStyle: { fontFamily: FONT, fontSize: 50, fontWeight: "normal", color: "#000" },
    })),
    grid, xAxis, yAxis, graphic,
    series: [...panels.map((rows, i) => panelSeries(rows, i)), cbSeries],
  };
}

export default function App() {
  const ref = useRef<HTMLDivElement>(null);
  useEffect(() => {
    document.body.style.margin = "0";
    const chart = echarts.init(ref.current!, null, { renderer: "svg" });
    chart.setOption(buildOption() as any);
    return () => chart.dispose();
  }, []);
  return <div ref={ref} style={{ position: "absolute", left: 0, top: 0, width: 3076, height: 1691 }} />;
}
